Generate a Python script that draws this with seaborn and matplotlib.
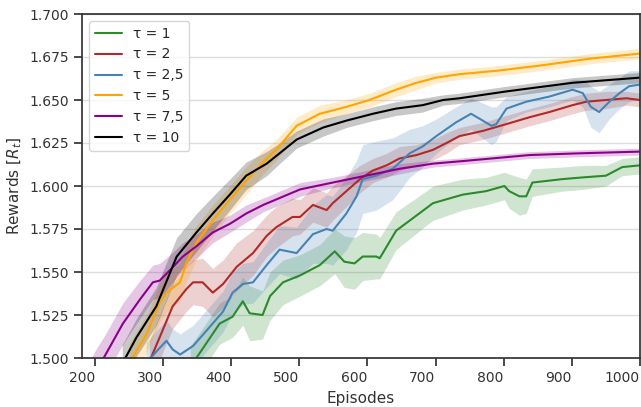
import numpy as np
import pandas as pd
import matplotlib
matplotlib.use("Agg")
import matplotlib.pyplot as plt
import seaborn as sns

# ---------------- data ----------------
labels = ["τ = 1", "τ = 2", "τ = 2,5", "τ = 5", "τ = 7,5", "τ = 10"]
colors = ["#2b8a2b", "#b02a2a", "#4682b4", "#ffa500", "#8b008b", "#000000"]

x_g = [340, 354, 383, 402, 417, 427, 446, 457, 476, 501, 530, 552, 566, 581, 593, 613, 618, 642, 686, 696,
       740, 774, 801, 808, 823, 833, 842, 886, 916, 950, 974, 1000]
y_g = [1.495, 1.503, 1.520, 1.524, 1.533, 1.526, 1.525, 1.536, 1.544, 1.548, 1.554, 1.562, 1.556, 1.555, 1.559,
       1.559, 1.558, 1.574, 1.587, 1.590, 1.595, 1.597, 1.600, 1.597, 1.594, 1.594, 1.602, 1.604, 1.605, 1.606,
       1.611, 1.612]
s_g = [0.012, 0.012, 0.012, 0.012, 0.014, 0.016, 0.014, 0.014, 0.013, 0.012, 0.012, 0.013, 0.015, 0.015, 0.014,
       0.013, 0.012, 0.011, 0.010, 0.010, 0.009, 0.008, 0.008, 0.010, 0.011, 0.010, 0.008, 0.007, 0.007, 0.006,
       0.005, 0.005]

x_r = [280, 295, 314, 334, 344, 358, 373, 388, 408, 432, 452, 466, 490, 501, 520, 540, 549, 569, 589, 608,
       628, 647, 672, 696, 716, 735, 769, 804, 838, 867, 901, 921, 950, 980, 1000]
y_r = [1.498, 1.512, 1.530, 1.540, 1.544, 1.544, 1.538, 1.543, 1.553, 1.561, 1.571, 1.576, 1.582, 1.582, 1.589,
       1.586, 1.590, 1.597, 1.604, 1.609, 1.612, 1.616, 1.618, 1.621, 1.625, 1.629, 1.632, 1.636, 1.640, 1.643,
       1.647, 1.649, 1.650, 1.651, 1.650]
s_r = [0.012, 0.013, 0.013, 0.013, 0.013, 0.014, 0.014, 0.014, 0.014, 0.013, 0.012, 0.012, 0.011, 0.010, 0.010,
       0.010, 0.010, 0.009, 0.008, 0.007, 0.007, 0.007, 0.006, 0.006, 0.006, 0.005, 0.005, 0.005, 0.005, 0.005,
       0.005, 0.005, 0.005, 0.004, 0.004]

x_b = [275, 293, 305, 314, 325, 344, 364, 388, 402, 417, 432, 452, 471, 496, 520, 540, 549, 569, 584, 593,
       613, 637, 662, 681, 701, 730, 752, 765, 782, 789, 804, 833, 867, 901, 916, 928, 940, 955, 970, 984, 1000]
y_b = [1.497, 1.505, 1.510, 1.505, 1.502, 1.507, 1.516, 1.527, 1.538, 1.543, 1.544, 1.554, 1.563, 1.561, 1.572,
       1.575, 1.574, 1.584, 1.594, 1.604, 1.606, 1.610, 1.619, 1.623, 1.629, 1.637, 1.642, 1.639, 1.635, 1.636,
       1.645, 1.649, 1.652, 1.656, 1.654, 1.646, 1.643, 1.649, 1.654, 1.658, 1.659]
s_b = [0.012, 0.012, 0.012, 0.012, 0.012, 0.012, 0.012, 0.012, 0.012, 0.012, 0.012, 0.013, 0.014, 0.015, 0.017,
       0.020, 0.020, 0.021, 0.021, 0.020, 0.020, 0.018, 0.014, 0.012, 0.010, 0.009, 0.009, 0.010, 0.011, 0.010,
       0.007, 0.006, 0.006, 0.006, 0.008, 0.012, 0.012, 0.010, 0.009, 0.009, 0.008]

x_o = [250, 256, 276, 295, 305, 325, 334, 349, 373, 398, 422, 447, 466, 496, 530, 569, 603, 642, 672, 701,
       735, 790, 853, 926, 1000]
y_o = [1.497, 1.501, 1.514, 1.532, 1.538, 1.544, 1.555, 1.567, 1.580, 1.592, 1.603, 1.614, 1.621, 1.635, 1.642,
       1.646, 1.650, 1.656, 1.660, 1.663, 1.665, 1.667, 1.670, 1.674, 1.677]
s_o = [0.011, 0.011, 0.011, 0.011, 0.011, 0.011, 0.011, 0.010, 0.009, 0.008, 0.008, 0.007, 0.006, 0.005, 0.005,
       0.004, 0.004, 0.004, 0.004, 0.003, 0.003, 0.003, 0.003, 0.003, 0.003]

x_p = [185, 200, 217, 241, 266, 285, 295, 310, 329, 349, 373, 398, 422, 447, 471, 501, 549, 598, 647, 696, 740,
       838, 911, 1000]
y_p = [1.480, 1.491, 1.503, 1.520, 1.534, 1.544, 1.545, 1.551, 1.559, 1.565, 1.573, 1.578, 1.584, 1.589, 1.593,
       1.598, 1.602, 1.606, 1.610, 1.613, 1.6145, 1.618, 1.619, 1.620]
s_p = [0.013, 0.013, 0.012, 0.012, 0.011, 0.010, 0.010, 0.009, 0.008, 0.007, 0.006, 0.005, 0.005, 0.004, 0.004,
       0.004, 0.003, 0.003, 0.003, 0.002, 0.002, 0.002, 0.002, 0.002]

x_k = [240, 246, 261, 290, 320, 349, 373, 398, 422, 452, 471, 496, 535, 569, 608, 642, 681, 711, 735, 804,
       901, 1000]
y_k = [1.497, 1.501, 1.512, 1.530, 1.559, 1.573, 1.584, 1.595, 1.606, 1.613, 1.619, 1.627, 1.634, 1.638, 1.642,
       1.645, 1.647, 1.650, 1.651, 1.655, 1.660, 1.663]
s_k = [0.011, 0.011, 0.011, 0.011, 0.011, 0.011, 0.010, 0.009, 0.008, 0.007, 0.006, 0.005, 0.005, 0.004, 0.004,
       0.004, 0.004, 0.003, 0.003, 0.003, 0.003, 0.003]

xticks = [200, 300, 400, 500, 600, 700, 800, 900, 1000]
yticks = [1.500, 1.525, 1.550, 1.575, 1.600, 1.625, 1.650, 1.675, 1.700]

series = [(x_g, y_g, s_g), (x_r, y_r, s_r), (x_b, y_b, s_b),
          (x_o, y_o, s_o), (x_p, y_p, s_p), (x_k, y_k, s_k)]

# ---------------- plotting ----------------
sns.set_theme(style="ticks")
plt.rcParams['font.family'] = ['DejaVu Sans']

fig = plt.figure(figsize=(6.41, 4.07), dpi=100)
ax = fig.add_axes([82 / 641, 1 - 358 / 407, (640 - 82) / 641, (358 - 14) / 407])

frames = []
for lab, (xs, ys, ss) in zip(labels, series):
    frames.append(pd.DataFrame({"Episodes": xs, "Reward": ys, "sd": ss, "tau": lab}))
df = pd.concat(frames, ignore_index=True)

for lab, col in zip(labels, colors):
    d = df[df["tau"] == lab]
    ax.fill_between(d["Episodes"], d["Reward"] - d["sd"], d["Reward"] + d["sd"],
                    color=col, alpha=0.22, linewidth=0)

sns.lineplot(data=df, x="Episodes", y="Reward", hue="tau", palette=colors,
             hue_order=labels, linewidth=1.5, ax=ax, estimator=None, sort=True)

ax.set_xlim(181, 1000)
ax.set_ylim(1.5, 1.7)
ax.set_xticks(xticks)
ax.set_xticklabels([str(t) for t in xticks], ha="right")
ax.set_yticks(yticks)
ax.set_yticklabels([f"{t:.3f}" for t in yticks])
ax.yaxis.grid(True, color="#dddddd", linewidth=1.0)
ax.set_axisbelow(True)
for sp in ax.spines.values():
    sp.set_visible(True)
    sp.set_color("#333333")
    sp.set_linewidth(1.25)
ax.tick_params(axis="both", labelsize=10, colors="#333333", length=6, width=1.25)
ax.set_xlabel("Episodes", fontsize=11, color="#333333")
ax.set_ylabel("Rewards [$R_t$]", fontsize=11, color="#333333")

leg = ax.legend(loc="upper left", fontsize=10, frameon=True, handlelength=2.0)
leg.get_frame().set_edgecolor("#cccccc")

fig.savefig("out.png", dpi=100)
